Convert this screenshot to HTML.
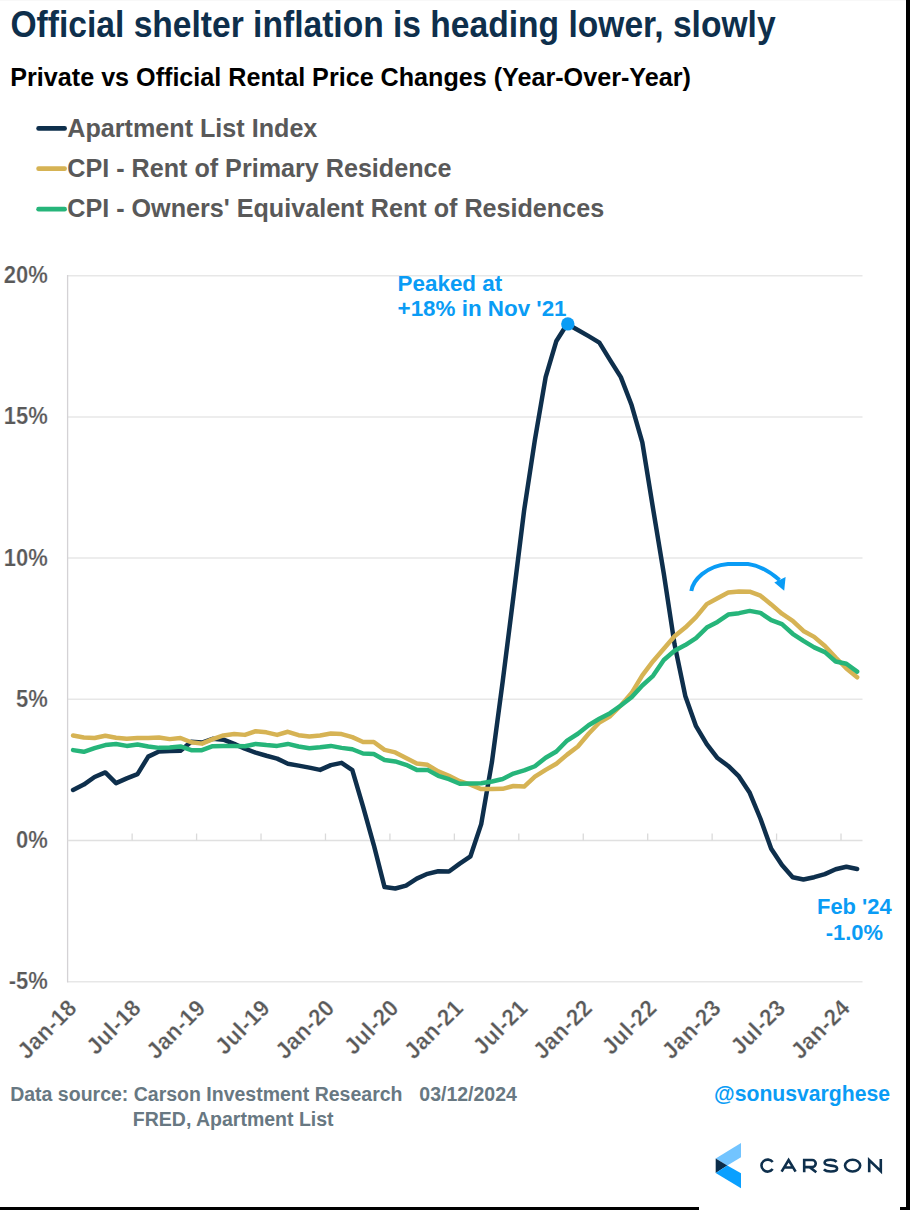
<!DOCTYPE html>
<html><head><meta charset="utf-8">
<style>
html,body{margin:0;padding:0;background:#fff;}
body{width:910px;height:1210px;position:relative;overflow:hidden;font-family:"Liberation Sans",sans-serif;}
svg{position:absolute;left:0;top:0;}
text{font-family:"Liberation Sans",sans-serif;font-weight:bold;}
.yl{font-size:22px;fill:#595959;stroke:#fff;stroke-width:0.2px;}
.xl{font-size:22px;fill:#595959;letter-spacing:0.4px;stroke:#fff;stroke-width:0.25px;}
</style></head><body>
<svg width="910" height="1210" viewBox="0 0 910 1210">
<rect x="0" y="0" width="910" height="1210" fill="#fff"/>
<rect x="0" y="0" width="906" height="1" fill="#f8f8f8"/>
<text x="0" y="0" transform="translate(10.5 36.6) scale(1 1.09)" style="font-size:33.6px;fill:#0E2F4C">Official shelter inflation is heading lower, slowly</text>
<text x="10.3" y="86" style="font-size:25.15px;fill:#000">Private vs Official Rental Price Changes (Year-Over-Year)</text>
<line x1="38.6" y1="128.4" x2="64.6" y2="128.4" stroke="#0E2F4C" stroke-width="4.7" stroke-linecap="round"/>
<line x1="38.6" y1="168.7" x2="64.6" y2="168.7" stroke="#D6B354" stroke-width="4.7" stroke-linecap="round"/>
<line x1="38.6" y1="209.2" x2="64.6" y2="209.2" stroke="#26B57A" stroke-width="4.7" stroke-linecap="round"/>
<text x="67.3" y="136.7" style="font-size:25.15px;fill:#595959">Apartment List Index</text>
<text x="67.3" y="177" style="font-size:25.15px;fill:#595959">CPI - Rent of Primary Residence</text>
<text x="67.3" y="217.3" style="font-size:25.15px;fill:#595959">CPI - Owners' Equivalent Rent of Residences</text>
<line x1="67.7" y1="275.70" x2="862.5" y2="275.70" stroke="#E7E7E7" stroke-width="1.5"/>
<line x1="67.7" y1="416.90" x2="862.5" y2="416.90" stroke="#E7E7E7" stroke-width="1.5"/>
<line x1="67.7" y1="558.10" x2="862.5" y2="558.10" stroke="#E7E7E7" stroke-width="1.5"/>
<line x1="67.7" y1="699.30" x2="862.5" y2="699.30" stroke="#E7E7E7" stroke-width="1.5"/>
<line x1="67.7" y1="981.70" x2="862.5" y2="981.70" stroke="#E7E7E7" stroke-width="1.5"/>
<line x1="67.6" y1="274.90" x2="67.6" y2="982.50" stroke="#D4D2D5" stroke-width="1.3"/>
<line x1="67.7" y1="840.5" x2="862.5" y2="840.5" stroke="#E0E0E0" stroke-width="1.6"/>
<line x1="132.14" y1="833.5" x2="132.14" y2="840.5" stroke="#DADADA" stroke-width="1.3"/>
<line x1="196.59" y1="833.5" x2="196.59" y2="840.5" stroke="#DADADA" stroke-width="1.3"/>
<line x1="261.03" y1="833.5" x2="261.03" y2="840.5" stroke="#DADADA" stroke-width="1.3"/>
<line x1="325.47" y1="833.5" x2="325.47" y2="840.5" stroke="#DADADA" stroke-width="1.3"/>
<line x1="389.92" y1="833.5" x2="389.92" y2="840.5" stroke="#DADADA" stroke-width="1.3"/>
<line x1="454.36" y1="833.5" x2="454.36" y2="840.5" stroke="#DADADA" stroke-width="1.3"/>
<line x1="518.80" y1="833.5" x2="518.80" y2="840.5" stroke="#DADADA" stroke-width="1.3"/>
<line x1="583.25" y1="833.5" x2="583.25" y2="840.5" stroke="#DADADA" stroke-width="1.3"/>
<line x1="647.69" y1="833.5" x2="647.69" y2="840.5" stroke="#DADADA" stroke-width="1.3"/>
<line x1="712.13" y1="833.5" x2="712.13" y2="840.5" stroke="#DADADA" stroke-width="1.3"/>
<line x1="776.58" y1="833.5" x2="776.58" y2="840.5" stroke="#DADADA" stroke-width="1.3"/>
<line x1="841.02" y1="833.5" x2="841.02" y2="840.5" stroke="#DADADA" stroke-width="1.3"/>
<text x="0" y="0" text-anchor="end" class="yl" transform="translate(47.8 283.10) scale(1 1.1)">20%</text>
<text x="0" y="0" text-anchor="end" class="yl" transform="translate(47.8 424.30) scale(1 1.1)">15%</text>
<text x="0" y="0" text-anchor="end" class="yl" transform="translate(47.8 565.50) scale(1 1.1)">10%</text>
<text x="0" y="0" text-anchor="end" class="yl" transform="translate(47.8 706.70) scale(1 1.1)">5%</text>
<text x="0" y="0" text-anchor="end" class="yl" transform="translate(47.8 847.90) scale(1 1.1)">0%</text>
<text x="0" y="0" text-anchor="end" class="yl" transform="translate(47.8 989.10) scale(1 1.1)">-5%</text>
<text x="0" y="0" text-anchor="end" class="xl" transform="translate(78.07 1009.2) rotate(-45) scale(1 1.06)">Jan-18</text>
<text x="0" y="0" text-anchor="end" class="xl" transform="translate(142.51 1009.2) rotate(-45) scale(1 1.06)">Jul-18</text>
<text x="0" y="0" text-anchor="end" class="xl" transform="translate(206.96 1009.2) rotate(-45) scale(1 1.06)">Jan-19</text>
<text x="0" y="0" text-anchor="end" class="xl" transform="translate(271.40 1009.2) rotate(-45) scale(1 1.06)">Jul-19</text>
<text x="0" y="0" text-anchor="end" class="xl" transform="translate(335.84 1009.2) rotate(-45) scale(1 1.06)">Jan-20</text>
<text x="0" y="0" text-anchor="end" class="xl" transform="translate(400.29 1009.2) rotate(-45) scale(1 1.06)">Jul-20</text>
<text x="0" y="0" text-anchor="end" class="xl" transform="translate(464.73 1009.2) rotate(-45) scale(1 1.06)">Jan-21</text>
<text x="0" y="0" text-anchor="end" class="xl" transform="translate(529.17 1009.2) rotate(-45) scale(1 1.06)">Jul-21</text>
<text x="0" y="0" text-anchor="end" class="xl" transform="translate(593.62 1009.2) rotate(-45) scale(1 1.06)">Jan-22</text>
<text x="0" y="0" text-anchor="end" class="xl" transform="translate(658.06 1009.2) rotate(-45) scale(1 1.06)">Jul-22</text>
<text x="0" y="0" text-anchor="end" class="xl" transform="translate(722.50 1009.2) rotate(-45) scale(1 1.06)">Jan-23</text>
<text x="0" y="0" text-anchor="end" class="xl" transform="translate(786.95 1009.2) rotate(-45) scale(1 1.06)">Jul-23</text>
<text x="0" y="0" text-anchor="end" class="xl" transform="translate(851.39 1009.2) rotate(-45) scale(1 1.06)">Jan-24</text>
<path d="M73.07,789.95 L83.81,784.58 L94.55,776.96 L105.29,772.44 L116.03,783.17 L126.77,778.37 L137.51,774.14 L148.25,756.63 L158.99,751.54 L169.74,750.98 L180.48,750.70 L191.22,741.66 L201.96,742.51 L212.70,738.84 L223.44,739.68 L234.18,743.92 L244.92,748.72 L255.66,752.67 L266.40,755.78 L277.14,758.60 L287.88,763.69 L298.62,765.66 L309.36,767.64 L320.10,769.90 L330.84,765.10 L341.58,762.84 L352.32,770.18 L363.06,806.61 L373.81,845.02 L384.55,887.10 L395.29,888.51 L406.03,885.68 L416.77,878.62 L427.51,873.82 L438.25,871.28 L448.99,871.56 L459.73,863.66 L470.47,856.31 L481.21,824.12 L491.95,761.99 L502.69,681.51 L513.43,596.51 L524.17,510.09 L534.91,439.77 L545.65,377.08 L556.39,340.93 L567.14,323.99 L577.88,329.92 L588.62,336.13 L599.36,342.63 L610.10,360.14 L620.84,377.08 L631.58,405.04 L642.32,442.32 L653.06,508.68 L663.80,573.63 L674.54,644.23 L685.28,695.91 L696.02,726.13 L706.76,744.20 L717.50,758.04 L728.24,765.95 L738.98,776.40 L749.72,792.77 L760.46,818.76 L771.21,848.69 L781.95,865.07 L792.69,877.21 L803.43,879.47 L814.17,877.21 L824.91,874.11 L835.65,869.30 L846.39,866.76 L857.13,869.02" fill="none" stroke="#0E2F4C" stroke-width="4.5" stroke-linejoin="round" stroke-linecap="round"/>
<path d="M73.07,735.45 L83.81,737.42 L94.55,737.99 L105.29,735.73 L116.03,737.71 L126.77,738.84 L137.51,737.99 L148.25,737.99 L158.99,737.42 L169.74,739.12 L180.48,737.99 L191.22,742.22 L201.96,743.64 L212.70,739.12 L223.44,735.45 L234.18,734.04 L244.92,734.88 L255.66,731.21 L266.40,732.34 L277.14,734.88 L287.88,731.78 L298.62,735.16 L309.36,736.58 L320.10,735.45 L330.84,733.47 L341.58,734.04 L352.32,737.14 L363.06,741.94 L373.81,741.94 L384.55,749.85 L395.29,752.39 L406.03,758.04 L416.77,763.40 L427.51,764.82 L438.25,771.31 L448.99,775.83 L459.73,781.20 L470.47,784.58 L481.21,789.10 L491.95,789.10 L502.69,788.82 L513.43,786.00 L524.17,786.56 L534.91,776.68 L545.65,769.90 L556.39,763.69 L567.14,754.65 L577.88,746.46 L588.62,733.75 L599.36,722.46 L610.10,716.24 L620.84,705.51 L631.58,693.09 L642.32,675.30 L653.06,661.18 L663.80,648.75 L674.54,636.32 L685.28,627.57 L696.02,617.12 L706.76,604.13 L717.50,598.20 L728.24,592.55 L738.98,591.42 L749.72,591.71 L760.46,595.66 L771.21,604.41 L781.95,613.73 L792.69,620.79 L803.43,630.96 L814.17,636.89 L824.91,645.93 L835.65,657.50 L846.39,668.52 L857.13,677.27" fill="none" stroke="#D6B354" stroke-width="4.5" stroke-linejoin="round" stroke-linecap="round"/>
<path d="M73.07,750.13 L83.81,751.83 L94.55,748.16 L105.29,745.05 L116.03,743.92 L126.77,745.90 L137.51,744.48 L148.25,746.46 L158.99,747.87 L169.74,747.59 L180.48,746.46 L191.22,750.13 L201.96,750.13 L212.70,746.18 L223.44,745.90 L234.18,745.90 L244.92,746.18 L255.66,743.92 L266.40,745.05 L277.14,745.90 L287.88,743.92 L298.62,746.46 L309.36,748.16 L320.10,747.31 L330.84,745.90 L341.58,747.87 L352.32,749.28 L363.06,753.52 L373.81,754.09 L384.55,760.02 L395.29,761.43 L406.03,764.82 L416.77,769.90 L427.51,769.90 L438.25,775.83 L448.99,779.22 L459.73,783.74 L470.47,783.46 L481.21,783.17 L491.95,781.48 L502.69,778.94 L513.43,773.57 L524.17,770.46 L534.91,766.23 L545.65,757.76 L556.39,751.54 L567.14,740.53 L577.88,733.75 L588.62,725.28 L599.36,718.79 L610.10,713.14 L620.84,705.51 L631.58,697.32 L642.32,685.46 L653.06,675.86 L663.80,660.05 L674.54,650.73 L685.28,645.08 L696.02,638.02 L706.76,627.57 L717.50,621.92 L728.24,614.58 L738.98,613.17 L749.72,610.91 L760.46,612.89 L771.21,620.23 L781.95,624.18 L792.69,633.78 L803.43,640.84 L814.17,647.34 L824.91,652.14 L835.65,661.46 L846.39,663.72 L857.13,671.62" fill="none" stroke="#26B57A" stroke-width="4.5" stroke-linejoin="round" stroke-linecap="round"/>
<circle cx="567.8" cy="323.9" r="6.7" fill="#0A9CF5"/>
<text x="397.6" y="290.6" style="font-size:22.4px;fill:#0A9CF5">Peaked at</text>
<text x="397.6" y="316.3" style="font-size:22.4px;fill:#0A9CF5">+18% in Nov '21</text>
<text x="854.3" y="914" text-anchor="middle" style="font-size:21.9px;fill:#0A9CF5">Feb '24</text>
<text x="854.3" y="940" text-anchor="middle" style="font-size:21.9px;fill:#0A9CF5">-1.0%</text>
<path d="M691.3,591 C693,580 706,566 728,564 L748,564 C757,565 769,571 779.5,580" fill="none" stroke="#0A9CF5" stroke-width="3.9"/>
<polygon points="774.3,582.4 785.6,577.0 784.2,590.8" fill="#0A9CF5"/>
<text x="10.2" y="1100.8" style="font-size:19.5px;fill:#687882">Data source: Carson Investment Research</text>
<text x="419.3" y="1100.8" style="font-size:19.5px;fill:#687882">03/12/2024</text>
<text x="132.8" y="1126.2" style="font-size:19.5px;fill:#687882">FRED, Apartment List</text>
<text x="714" y="1100.7" style="font-size:21.2px;fill:#0A9CF5">@sonusvarghese</text>
<polygon points="741,1143.1 741,1157.3 727.3,1165.5 715.7,1158.4" fill="#72C4FF"/>
<polygon points="715.7,1158.4 727.3,1165.5 715.7,1172.9" fill="#0B2D4A"/>
<polygon points="715.7,1172.9 727.3,1165.5 741,1173.2 741,1188.3" fill="#0AA0FF"/>
<g fill="none" stroke="#0E2F4C" stroke-width="2.6">
<path d="M772.7,1162.1 A6.2,6.0 0 1 0 772.7,1169.1"/>
<path d="M781.6,1171.6 L788.6,1160.0 L795.6,1171.6 M784.4,1167.5 H792.8" stroke-linejoin="miter"/>
<path d="M804.2,1172.3 V1160.0 H812.2 A3.55,3.55 0 0 1 812.2,1167.1 H804.2 M809.6,1167.1 L816.3,1172.3"/>
<path d="M836.6,1161.8 C835.2,1160.3 833,1159.8 830.6,1159.8 C826.6,1159.8 824.6,1160.9 824.6,1162.8 C824.6,1165.0 827.3,1165.3 830.8,1165.6 C834.6,1165.9 837.1,1166.4 837.1,1168.5 C837.1,1170.4 834.9,1171.5 830.8,1171.5 C827.8,1171.5 825.3,1170.9 823.9,1169.4"/>
<ellipse cx="852.6" cy="1165.6" rx="7.6" ry="5.9"/>
<path d="M869.2,1172.3 V1160.0 L880.8,1171.2 V1158.9"/>
</g>
<rect x="906" y="0" width="4" height="1210" fill="#000"/>
<rect x="0" y="1207" width="699" height="3" fill="#000"/>
<rect x="900" y="1207" width="10" height="3" fill="#000"/>
</svg>
</body></html>
